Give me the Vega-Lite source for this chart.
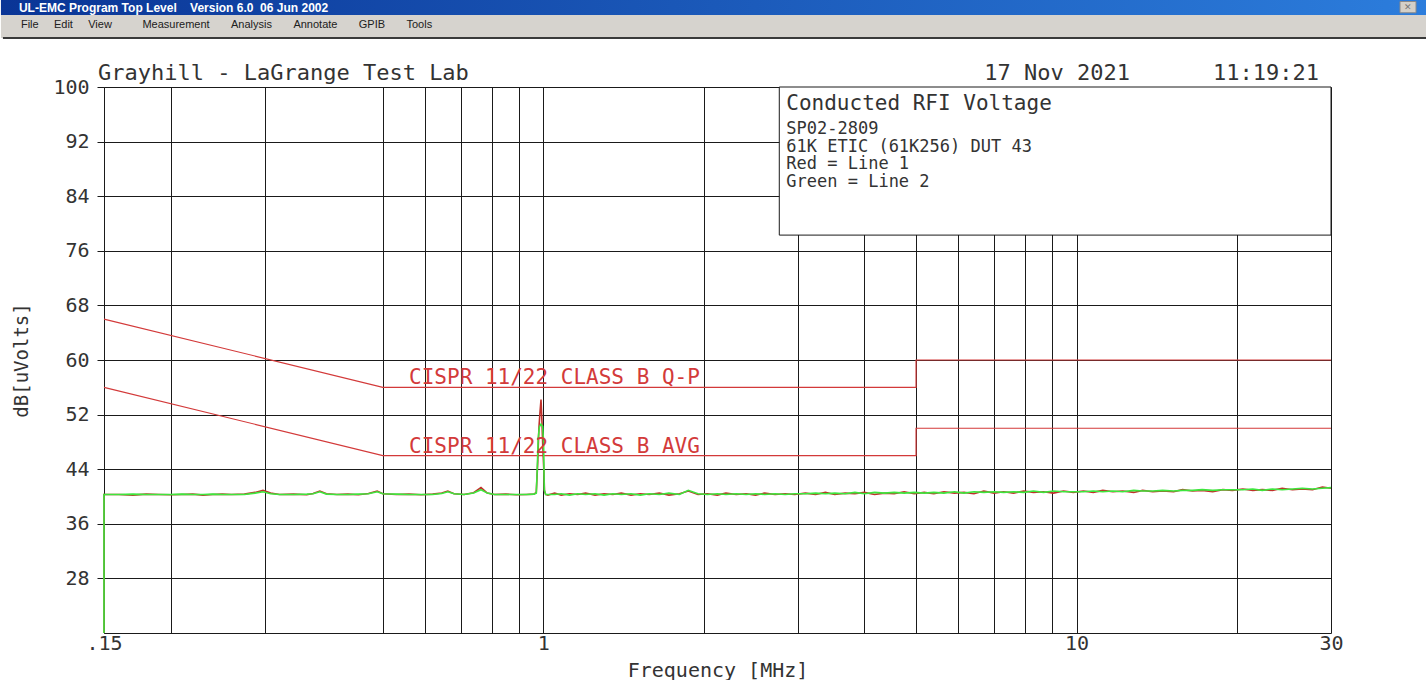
{
  "$schema": "https://vega.github.io/schema/vega-lite/v6.json",
  "padding": 0,
  "background": "white",
  "spacing": 23,
  "config": {"view": {"stroke": null}},
  "datasets": {
    "one": [{}],
    "limits": [
      {"limit": "QP", "f": 0.15, "v": 66}, {"limit": "QP", "f": 0.5, "v": 56}, {"limit": "QP", "f": 5, "v": 56}, {"limit": "QP", "f": 5, "v": 60}, {"limit": "QP", "f": 30, "v": 60},
      {"limit": "AVG", "f": 0.15, "v": 56}, {"limit": "AVG", "f": 0.5, "v": 46}, {"limit": "AVG", "f": 5, "v": 46}, {"limit": "AVG", "f": 5, "v": 50}, {"limit": "AVG", "f": 30, "v": 50}
    ],
    "traces": [
      {"line": "Line 1", "f": 0.15, "v": 20}, {"line": "Line 1", "f": 0.15, "v": 40.3}, {"line": "Line 1", "f": 0.16, "v": 40.3}, {"line": "Line 1", "f": 0.17, "v": 40.2}, {"line": "Line 1", "f": 0.18, "v": 40.35}, {"line": "Line 1", "f": 0.19, "v": 40.3}, {"line": "Line 1", "f": 0.2, "v": 40.25}, {"line": "Line 1", "f": 0.21, "v": 40.3}, {"line": "Line 1", "f": 0.22, "v": 40.35}, {"line": "Line 1", "f": 0.23, "v": 40.2}, {"line": "Line 1", "f": 0.24, "v": 40.3}, {"line": "Line 1", "f": 0.25, "v": 40.35}, {"line": "Line 1", "f": 0.26, "v": 40.3}, {"line": "Line 1", "f": 0.275, "v": 40.35}, {"line": "Line 1", "f": 0.288, "v": 40.6}, {"line": "Line 1", "f": 0.298, "v": 40.9}, {"line": "Line 1", "f": 0.308, "v": 40.5}, {"line": "Line 1", "f": 0.32, "v": 40.3}, {"line": "Line 1", "f": 0.34, "v": 40.35}, {"line": "Line 1", "f": 0.36, "v": 40.25}, {"line": "Line 1", "f": 0.37, "v": 40.45}, {"line": "Line 1", "f": 0.381, "v": 40.8}, {"line": "Line 1", "f": 0.392, "v": 40.4}, {"line": "Line 1", "f": 0.41, "v": 40.3}, {"line": "Line 1", "f": 0.43, "v": 40.35}, {"line": "Line 1", "f": 0.45, "v": 40.25}, {"line": "Line 1", "f": 0.47, "v": 40.45}, {"line": "Line 1", "f": 0.488, "v": 40.8}, {"line": "Line 1", "f": 0.5, "v": 40.4}, {"line": "Line 1", "f": 0.53, "v": 40.3}, {"line": "Line 1", "f": 0.56, "v": 40.35}, {"line": "Line 1", "f": 0.59, "v": 40.25}, {"line": "Line 1", "f": 0.62, "v": 40.35}, {"line": "Line 1", "f": 0.645, "v": 40.5}, {"line": "Line 1", "f": 0.662, "v": 40.8}, {"line": "Line 1", "f": 0.68, "v": 40.4}, {"line": "Line 1", "f": 0.71, "v": 40.3}, {"line": "Line 1", "f": 0.74, "v": 40.55}, {"line": "Line 1", "f": 0.764, "v": 41.3}, {"line": "Line 1", "f": 0.785, "v": 40.5}, {"line": "Line 1", "f": 0.81, "v": 40.3}, {"line": "Line 1", "f": 0.85, "v": 40.35}, {"line": "Line 1", "f": 0.89, "v": 40.25}, {"line": "Line 1", "f": 0.93, "v": 40.3}, {"line": "Line 1", "f": 0.96, "v": 40.35}, {"line": "Line 1", "f": 0.97, "v": 40.6}, {"line": "Line 1", "f": 0.976, "v": 45}, {"line": "Line 1", "f": 0.981, "v": 50}, {"line": "Line 1", "f": 0.986, "v": 52.5}, {"line": "Line 1", "f": 0.99, "v": 54.2}, {"line": "Line 1", "f": 0.994, "v": 51}, {"line": "Line 1", "f": 0.998, "v": 47}, {"line": "Line 1", "f": 1.002, "v": 44}, {"line": "Line 1", "f": 1.005, "v": 40.8}, {"line": "Line 1", "f": 1.01, "v": 40.3},
      {"line": "Line 1", "f": 1.02, "v": 40.2}, {"line": "Line 1", "f": 1.05, "v": 40.5}, {"line": "Line 1", "f": 1.08, "v": 40.2}, {"line": "Line 1", "f": 1.12, "v": 40.4}, {"line": "Line 1", "f": 1.16, "v": 40.3}, {"line": "Line 1", "f": 1.2, "v": 40.5}, {"line": "Line 1", "f": 1.25, "v": 40.2}, {"line": "Line 1", "f": 1.3, "v": 40.4}, {"line": "Line 1", "f": 1.35, "v": 40.3}, {"line": "Line 1", "f": 1.4, "v": 40.5}, {"line": "Line 1", "f": 1.46, "v": 40.2}, {"line": "Line 1", "f": 1.52, "v": 40.4}, {"line": "Line 1", "f": 1.58, "v": 40.3}, {"line": "Line 1", "f": 1.65, "v": 40.5}, {"line": "Line 1", "f": 1.72, "v": 40.2}, {"line": "Line 1", "f": 1.8, "v": 40.4}, {"line": "Line 1", "f": 1.87, "v": 40.8}, {"line": "Line 1", "f": 1.95, "v": 40.3}, {"line": "Line 1", "f": 2.03, "v": 40.4}, {"line": "Line 1", "f": 2.12, "v": 40.2}, {"line": "Line 1", "f": 2.2, "v": 40.5}, {"line": "Line 1", "f": 2.3, "v": 40.3}, {"line": "Line 1", "f": 2.4, "v": 40.4}, {"line": "Line 1", "f": 2.5, "v": 40.2}, {"line": "Line 1", "f": 2.6, "v": 40.5}, {"line": "Line 1", "f": 2.72, "v": 40.3}, {"line": "Line 1", "f": 2.84, "v": 40.4}, {"line": "Line 1", "f": 2.96, "v": 40.3}, {"line": "Line 1", "f": 3.1, "v": 40.5}, {"line": "Line 1", "f": 3.24, "v": 40.3}, {"line": "Line 1", "f": 3.38, "v": 40.6}, {"line": "Line 1", "f": 3.52, "v": 40.3}, {"line": "Line 1", "f": 3.68, "v": 40.5}, {"line": "Line 1", "f": 3.84, "v": 40.4}, {"line": "Line 1", "f": 4.0, "v": 40.6}, {"line": "Line 1", "f": 4.18, "v": 40.3}, {"line": "Line 1", "f": 4.36, "v": 40.5}, {"line": "Line 1", "f": 4.55, "v": 40.4}, {"line": "Line 1", "f": 4.75, "v": 40.7}, {"line": "Line 1", "f": 4.96, "v": 40.4}, {"line": "Line 1", "f": 5.18, "v": 40.6}, {"line": "Line 1", "f": 5.4, "v": 40.4}, {"line": "Line 1", "f": 5.64, "v": 40.7}, {"line": "Line 1", "f": 5.9, "v": 40.5}, {"line": "Line 1", "f": 6.15, "v": 40.6}, {"line": "Line 1", "f": 6.42, "v": 40.4}, {"line": "Line 1", "f": 6.7, "v": 40.8}, {"line": "Line 1", "f": 7.0, "v": 40.5}, {"line": "Line 1", "f": 7.3, "v": 40.7}, {"line": "Line 1", "f": 7.62, "v": 40.5}, {"line": "Line 1", "f": 7.96, "v": 40.8}, {"line": "Line 1", "f": 8.3, "v": 40.6}, {"line": "Line 1", "f": 8.67, "v": 40.7}, {"line": "Line 1", "f": 9.05, "v": 40.5}, {"line": "Line 1", "f": 9.45, "v": 40.8}, {"line": "Line 1", "f": 9.86, "v": 40.6}, {"line": "Line 1", "f": 10.3, "v": 40.8}, {"line": "Line 1", "f": 10.75, "v": 40.6}, {"line": "Line 1", "f": 11.2, "v": 40.9}, {"line": "Line 1", "f": 11.7, "v": 40.7}, {"line": "Line 1", "f": 12.2, "v": 40.8}, {"line": "Line 1", "f": 12.8, "v": 40.6}, {"line": "Line 1", "f": 13.3, "v": 40.9}, {"line": "Line 1", "f": 13.9, "v": 40.7}, {"line": "Line 1", "f": 14.5, "v": 40.8}, {"line": "Line 1", "f": 15.2, "v": 40.7}, {"line": "Line 1", "f": 15.8, "v": 41.0}, {"line": "Line 1", "f": 16.5, "v": 40.8}, {"line": "Line 1", "f": 17.2, "v": 40.9}, {"line": "Line 1", "f": 18, "v": 40.7}, {"line": "Line 1", "f": 18.8, "v": 41.0}, {"line": "Line 1", "f": 19.6, "v": 40.9}, {"line": "Line 1", "f": 20.5, "v": 41.1}, {"line": "Line 1", "f": 21.4, "v": 40.9}, {"line": "Line 1", "f": 22.3, "v": 41.0}, {"line": "Line 1", "f": 23.3, "v": 40.9}, {"line": "Line 1", "f": 24.3, "v": 41.2}, {"line": "Line 1", "f": 25.4, "v": 41.0}, {"line": "Line 1", "f": 26.5, "v": 41.1}, {"line": "Line 1", "f": 27.7, "v": 41.0}, {"line": "Line 1", "f": 28.9, "v": 41.4}, {"line": "Line 1", "f": 30, "v": 41.2},
      {"line": "Line 2", "f": 0.15, "v": 20}, {"line": "Line 2", "f": 0.15, "v": 40.3}, {"line": "Line 2", "f": 0.16, "v": 40.3}, {"line": "Line 2", "f": 0.17, "v": 40.35}, {"line": "Line 2", "f": 0.18, "v": 40.3}, {"line": "Line 2", "f": 0.19, "v": 40.3}, {"line": "Line 2", "f": 0.2, "v": 40.3}, {"line": "Line 2", "f": 0.21, "v": 40.35}, {"line": "Line 2", "f": 0.22, "v": 40.3}, {"line": "Line 2", "f": 0.23, "v": 40.3}, {"line": "Line 2", "f": 0.24, "v": 40.35}, {"line": "Line 2", "f": 0.25, "v": 40.3}, {"line": "Line 2", "f": 0.26, "v": 40.3}, {"line": "Line 2", "f": 0.275, "v": 40.3}, {"line": "Line 2", "f": 0.288, "v": 40.5}, {"line": "Line 2", "f": 0.298, "v": 40.7}, {"line": "Line 2", "f": 0.308, "v": 40.4}, {"line": "Line 2", "f": 0.32, "v": 40.3}, {"line": "Line 2", "f": 0.34, "v": 40.3}, {"line": "Line 2", "f": 0.36, "v": 40.35}, {"line": "Line 2", "f": 0.37, "v": 40.4}, {"line": "Line 2", "f": 0.381, "v": 40.7}, {"line": "Line 2", "f": 0.392, "v": 40.35}, {"line": "Line 2", "f": 0.41, "v": 40.3}, {"line": "Line 2", "f": 0.43, "v": 40.3}, {"line": "Line 2", "f": 0.45, "v": 40.35}, {"line": "Line 2", "f": 0.47, "v": 40.4}, {"line": "Line 2", "f": 0.488, "v": 40.7}, {"line": "Line 2", "f": 0.5, "v": 40.4}, {"line": "Line 2", "f": 0.53, "v": 40.35}, {"line": "Line 2", "f": 0.56, "v": 40.3}, {"line": "Line 2", "f": 0.59, "v": 40.3}, {"line": "Line 2", "f": 0.62, "v": 40.3}, {"line": "Line 2", "f": 0.645, "v": 40.45}, {"line": "Line 2", "f": 0.662, "v": 40.7}, {"line": "Line 2", "f": 0.68, "v": 40.4}, {"line": "Line 2", "f": 0.71, "v": 40.3}, {"line": "Line 2", "f": 0.74, "v": 40.5}, {"line": "Line 2", "f": 0.764, "v": 41.0}, {"line": "Line 2", "f": 0.785, "v": 40.5}, {"line": "Line 2", "f": 0.81, "v": 40.3}, {"line": "Line 2", "f": 0.85, "v": 40.3}, {"line": "Line 2", "f": 0.89, "v": 40.3}, {"line": "Line 2", "f": 0.93, "v": 40.3}, {"line": "Line 2", "f": 0.96, "v": 40.35}, {"line": "Line 2", "f": 0.97, "v": 40.5}, {"line": "Line 2", "f": 0.974, "v": 44}, {"line": "Line 2", "f": 0.978, "v": 48.5}, {"line": "Line 2", "f": 0.983, "v": 50.2}, {"line": "Line 2", "f": 0.99, "v": 50.6}, {"line": "Line 2", "f": 0.997, "v": 50.3}, {"line": "Line 2", "f": 1.001, "v": 48}, {"line": "Line 2", "f": 1.004, "v": 41}, {"line": "Line 2", "f": 1.01, "v": 40.3},
      {"line": "Line 2", "f": 1.02, "v": 40.3}, {"line": "Line 2", "f": 1.05, "v": 40.3}, {"line": "Line 2", "f": 1.08, "v": 40.4}, {"line": "Line 2", "f": 1.12, "v": 40.2}, {"line": "Line 2", "f": 1.16, "v": 40.4}, {"line": "Line 2", "f": 1.2, "v": 40.3}, {"line": "Line 2", "f": 1.25, "v": 40.4}, {"line": "Line 2", "f": 1.3, "v": 40.2}, {"line": "Line 2", "f": 1.35, "v": 40.4}, {"line": "Line 2", "f": 1.4, "v": 40.3}, {"line": "Line 2", "f": 1.46, "v": 40.4}, {"line": "Line 2", "f": 1.52, "v": 40.2}, {"line": "Line 2", "f": 1.58, "v": 40.4}, {"line": "Line 2", "f": 1.65, "v": 40.3}, {"line": "Line 2", "f": 1.72, "v": 40.5}, {"line": "Line 2", "f": 1.8, "v": 40.3}, {"line": "Line 2", "f": 1.87, "v": 40.9}, {"line": "Line 2", "f": 1.95, "v": 40.4}, {"line": "Line 2", "f": 2.03, "v": 40.3}, {"line": "Line 2", "f": 2.12, "v": 40.4}, {"line": "Line 2", "f": 2.2, "v": 40.3}, {"line": "Line 2", "f": 2.3, "v": 40.4}, {"line": "Line 2", "f": 2.4, "v": 40.3}, {"line": "Line 2", "f": 2.5, "v": 40.4}, {"line": "Line 2", "f": 2.6, "v": 40.3}, {"line": "Line 2", "f": 2.72, "v": 40.4}, {"line": "Line 2", "f": 2.84, "v": 40.3}, {"line": "Line 2", "f": 2.96, "v": 40.4}, {"line": "Line 2", "f": 3.1, "v": 40.4}, {"line": "Line 2", "f": 3.24, "v": 40.5}, {"line": "Line 2", "f": 3.38, "v": 40.4}, {"line": "Line 2", "f": 3.52, "v": 40.5}, {"line": "Line 2", "f": 3.68, "v": 40.4}, {"line": "Line 2", "f": 3.84, "v": 40.6}, {"line": "Line 2", "f": 4.0, "v": 40.4}, {"line": "Line 2", "f": 4.18, "v": 40.6}, {"line": "Line 2", "f": 4.36, "v": 40.5}, {"line": "Line 2", "f": 4.55, "v": 40.6}, {"line": "Line 2", "f": 4.75, "v": 40.5}, {"line": "Line 2", "f": 4.96, "v": 40.6}, {"line": "Line 2", "f": 5.18, "v": 40.5}, {"line": "Line 2", "f": 5.4, "v": 40.6}, {"line": "Line 2", "f": 5.64, "v": 40.5}, {"line": "Line 2", "f": 5.9, "v": 40.7}, {"line": "Line 2", "f": 6.15, "v": 40.5}, {"line": "Line 2", "f": 6.42, "v": 40.7}, {"line": "Line 2", "f": 6.7, "v": 40.6}, {"line": "Line 2", "f": 7.0, "v": 40.7}, {"line": "Line 2", "f": 7.3, "v": 40.6}, {"line": "Line 2", "f": 7.62, "v": 40.7}, {"line": "Line 2", "f": 7.96, "v": 40.6}, {"line": "Line 2", "f": 8.3, "v": 40.8}, {"line": "Line 2", "f": 8.67, "v": 40.6}, {"line": "Line 2", "f": 9.05, "v": 40.8}, {"line": "Line 2", "f": 9.45, "v": 40.7}, {"line": "Line 2", "f": 9.86, "v": 40.7}, {"line": "Line 2", "f": 10.3, "v": 40.7}, {"line": "Line 2", "f": 10.75, "v": 40.8}, {"line": "Line 2", "f": 11.2, "v": 40.7}, {"line": "Line 2", "f": 11.7, "v": 40.8}, {"line": "Line 2", "f": 12.2, "v": 40.7}, {"line": "Line 2", "f": 12.8, "v": 40.9}, {"line": "Line 2", "f": 13.3, "v": 40.8}, {"line": "Line 2", "f": 13.9, "v": 40.8}, {"line": "Line 2", "f": 14.5, "v": 40.9}, {"line": "Line 2", "f": 15.2, "v": 40.8}, {"line": "Line 2", "f": 15.8, "v": 40.9}, {"line": "Line 2", "f": 16.5, "v": 40.9}, {"line": "Line 2", "f": 17.2, "v": 41.0}, {"line": "Line 2", "f": 18, "v": 40.9}, {"line": "Line 2", "f": 18.8, "v": 41.0}, {"line": "Line 2", "f": 19.6, "v": 41.0}, {"line": "Line 2", "f": 20.5, "v": 41.0}, {"line": "Line 2", "f": 21.4, "v": 41.1}, {"line": "Line 2", "f": 22.3, "v": 40.9}, {"line": "Line 2", "f": 23.3, "v": 41.1}, {"line": "Line 2", "f": 24.3, "v": 41.0}, {"line": "Line 2", "f": 25.4, "v": 41.1}, {"line": "Line 2", "f": 26.5, "v": 41.2}, {"line": "Line 2", "f": 27.7, "v": 41.1}, {"line": "Line 2", "f": 28.9, "v": 41.2}, {"line": "Line 2", "f": 30, "v": 41.3}
    ]
  },
  "vconcat": [
    {
      "spacing": 0,
      "vconcat": [
        {
          "width": 1323,
          "height": 15,
          "data": {"values": [{"label": "UL-EMC Program Top Level\u00a0\u00a0\u00a0\u00a0Version 6.0\u00a0\u00a006 Jun 2002"}]},
          "layer": [
            {
              "mark": {"type": "rect", "color": {"gradient": "linear", "x1": 0, "x2": 1, "y1": 0, "y2": 0, "stops": [{"offset": 0, "color": "#0a3596"}, {"offset": 1, "color": "#2c7ddc"}]}},
              "encoding": {
                "x": {"datum": -0.0779, "type": "quantitative", "scale": {"domain": [0, 1], "nice": false, "zero": false}, "axis": null},
                "x2": {"datum": 1},
                "y": {"datum": 0, "type": "quantitative", "scale": {"domain": [0, 1], "nice": false}, "axis": null},
                "y2": {"datum": 1}
              }
            },
            {
              "mark": {"type": "rect", "color": "#d4d0c8", "stroke": "#8a8a8a", "strokeWidth": 1},
              "encoding": {
                "x": {"datum": 0.9796, "type": "quantitative", "axis": null},
                "x2": {"datum": 0.9917},
                "y": {"datum": 0.15, "type": "quantitative", "axis": null},
                "y2": {"datum": 0.9}
              }
            },
            {
              "mark": {"type": "text", "text": "\u2715", "color": "#777777", "fontSize": 9, "align": "center", "baseline": "middle"},
              "encoding": {
                "x": {"datum": 0.9856, "type": "quantitative", "axis": null},
                "y": {"datum": 0.52, "type": "quantitative", "axis": null}
              }
            },
            {
              "mark": {"type": "text", "align": "left", "baseline": "middle", "color": "white", "font": "Liberation Sans", "fontSize": 12, "fontWeight": "bold", "dx": 18},
              "encoding": {
                "x": {"datum": -0.0779, "type": "quantitative", "axis": null},
                "y": {"datum": 0.5, "type": "quantitative", "axis": null},
                "text": {"field": "label"}
              }
            }
          ]
        },
        {
          "width": 1323,
          "height": 23,
          "data": {"values": [{"label": "File\u00a0\u00a0\u00a0\u00a0\u00a0Edit\u00a0\u00a0\u00a0\u00a0\u00a0View\u00a0\u00a0\u00a0\u00a0\u00a0\u00a0\u00a0\u00a0\u00a0\u00a0Measurement\u00a0\u00a0\u00a0\u00a0\u00a0\u00a0\u00a0Analysis\u00a0\u00a0\u00a0\u00a0\u00a0\u00a0\u00a0Annotate\u00a0\u00a0\u00a0\u00a0\u00a0\u00a0\u00a0GPIB\u00a0\u00a0\u00a0\u00a0\u00a0\u00a0\u00a0Tools"}]},
          "layer": [
            {
              "mark": {"type": "rect", "color": "#d6d3ce"},
              "encoding": {
                "x": {"datum": -0.0779, "type": "quantitative", "scale": {"domain": [0, 1], "nice": false, "zero": false}, "axis": null},
                "x2": {"datum": 1},
                "y": {"datum": 0, "type": "quantitative", "scale": {"domain": [0, 1], "nice": false}, "axis": null},
                "y2": {"datum": 1}
              }
            },
            {
              "mark": {"type": "text", "align": "left", "baseline": "middle", "color": "#202020", "font": "Liberation Sans", "fontSize": 11, "dx": 20},
              "encoding": {
                "x": {"datum": -0.0779, "type": "quantitative", "axis": null},
                "y": {"datum": 0.55, "type": "quantitative", "axis": null},
                "text": {"field": "label"}
              }
            },
            {
              "mark": {"type": "rule", "color": "#3a3a3a", "strokeWidth": 2},
              "encoding": {
                "x": {"datum": -0.0764, "type": "quantitative", "axis": null},
                "x2": {"datum": 1},
                "y": {"datum": 0, "type": "quantitative", "axis": null}
              }
            }
          ]
        }
      ]
    },
    {
      "width": 1227,
      "height": 546,
      "layer": [
        {
          "data": {"name": "limits"},
          "mark": {"type": "line", "color": "#d33a3a", "strokeWidth": 1.2},
          "encoding": {
            "x": {
              "field": "f", "type": "quantitative",
              "scale": {"type": "log", "domain": [0.15, 30], "nice": false},
              "axis": {
                "values": [0.15, 0.2, 0.3, 0.5, 0.6, 0.7, 0.8, 0.9, 1, 2, 3, 4, 5, 6, 7, 8, 9, 10, 20, 30],
                "labelExpr": "datum.value == 0.15 ? '.15' : (datum.value == 1 ? '1' : (datum.value == 10 ? '10' : (datum.value == 30 ? '30' : '')))",
                "grid": true, "gridColor": "#1a1a1a", "gridOpacity": 1, "gridWidth": 1,
                "ticks": false, "tickSize": 0,
                "domainColor": "#1a1a1a", "domainWidth": 1,
                "labelFont": "DejaVu Sans Mono", "labelFontSize": 20, "labelColor": "#333333", "labelPadding": 0,
                "labelOverlap": false, "labelFlush": false,
                "title": "Frequency [MHz]", "titleFont": "DejaVu Sans Mono", "titleFontSize": 20, "titleFontWeight": "normal", "titleColor": "#333333", "titlePadding": 7
              }
            },
            "y": {
              "field": "v", "type": "quantitative",
              "scale": {"domain": [20, 100], "nice": false, "zero": false},
              "axis": {
                "values": [28, 36, 44, 52, 60, 68, 76, 84, 92, 100],
                "grid": true, "gridColor": "#1a1a1a", "gridOpacity": 1, "gridWidth": 1,
                "tickSize": 7, "tickColor": "#1a1a1a",
                "domainColor": "#1a1a1a", "domainWidth": 1,
                "labelFont": "DejaVu Sans Mono", "labelFontSize": 20, "labelColor": "#333333", "labelPadding": 8,
                "title": "dB[uVolts]", "titleFont": "DejaVu Sans Mono", "titleFontSize": 19, "titleFontWeight": "normal", "titleColor": "#333333", "titlePadding": 21
              }
            },
            "detail": {"field": "limit"}
          }
        },
        {
          "data": {"name": "traces"},
          "mark": {"type": "line", "strokeWidth": 1.6},
          "encoding": {
            "x": {"field": "f", "type": "quantitative"},
            "y": {"field": "v", "type": "quantitative"},
            "color": {"field": "line", "type": "nominal", "scale": {"domain": ["Line 1", "Line 2"], "range": ["#c0302a", "#3de63d"]}, "legend": null}
          }
        },
        {
          "data": {"name": "one"},
          "mark": {"type": "text", "text": "CISPR 11/22 CLASS B Q-P", "align": "left", "baseline": "alphabetic", "dy": -3, "font": "DejaVu Sans Mono", "fontSize": 21, "color": "#d33a3a"},
          "encoding": {
            "x": {"datum": 0.56, "type": "quantitative"},
            "y": {"datum": 56, "type": "quantitative"}
          }
        },
        {
          "data": {"name": "one"},
          "mark": {"type": "text", "text": "CISPR 11/22 CLASS B AVG", "align": "left", "baseline": "alphabetic", "dy": -3, "font": "DejaVu Sans Mono", "fontSize": 21, "color": "#d33a3a"},
          "encoding": {
            "x": {"datum": 0.56, "type": "quantitative"},
            "y": {"datum": 46, "type": "quantitative"}
          }
        },
        {
          "data": {"name": "one"},
          "mark": {"type": "rect", "fill": "white", "stroke": "#1a1a1a", "strokeWidth": 1},
          "encoding": {
            "x": {"datum": 2.77, "type": "quantitative"},
            "x2": {"datum": 30},
            "y": {"datum": 100, "type": "quantitative"},
            "y2": {"datum": 78.3}
          }
        },
        {
          "data": {"name": "one"},
          "mark": {"type": "text", "text": "Conducted RFI Voltage", "align": "left", "baseline": "alphabetic", "dx": 7, "dy": 23, "font": "DejaVu Sans Mono", "fontSize": 21, "color": "#333333"},
          "encoding": {
            "x": {"datum": 2.77, "type": "quantitative"},
            "y": {"datum": 100, "type": "quantitative"}
          }
        },
        {
          "data": {"name": "one"},
          "mark": {"type": "text", "text": ["SP02-2809", "61K ETIC (61K256) DUT 43", "Red = Line 1", "Green = Line 2"], "lineHeight": 17.5, "align": "left", "baseline": "alphabetic", "dx": 7, "dy": 47, "font": "DejaVu Sans Mono", "fontSize": 17, "color": "#333333"},
          "encoding": {
            "x": {"datum": 2.77, "type": "quantitative"},
            "y": {"datum": 100, "type": "quantitative"}
          }
        },
        {
          "data": {"name": "one"},
          "mark": {"type": "text", "text": "Grayhill - LaGrange Test Lab", "align": "left", "baseline": "alphabetic", "dx": -6, "dy": -7, "font": "DejaVu Sans Mono", "fontSize": 22, "color": "#333333"},
          "encoding": {
            "x": {"datum": 0.15, "type": "quantitative"},
            "y": {"datum": 100, "type": "quantitative"}
          }
        },
        {
          "data": {"name": "one"},
          "mark": {"type": "text", "text": "17 Nov 2021", "align": "left", "baseline": "alphabetic", "dy": -7, "font": "DejaVu Sans Mono", "fontSize": 22, "color": "#333333"},
          "encoding": {
            "x": {"datum": 6.71, "type": "quantitative"},
            "y": {"datum": 100, "type": "quantitative"}
          }
        },
        {
          "data": {"name": "one"},
          "mark": {"type": "text", "text": "11:19:21", "align": "right", "baseline": "alphabetic", "dx": -12, "dy": -7, "font": "DejaVu Sans Mono", "fontSize": 22, "color": "#333333"},
          "encoding": {
            "x": {"datum": 30, "type": "quantitative"},
            "y": {"datum": 100, "type": "quantitative"}
          }
        }
      ]
    }
  ]
}
